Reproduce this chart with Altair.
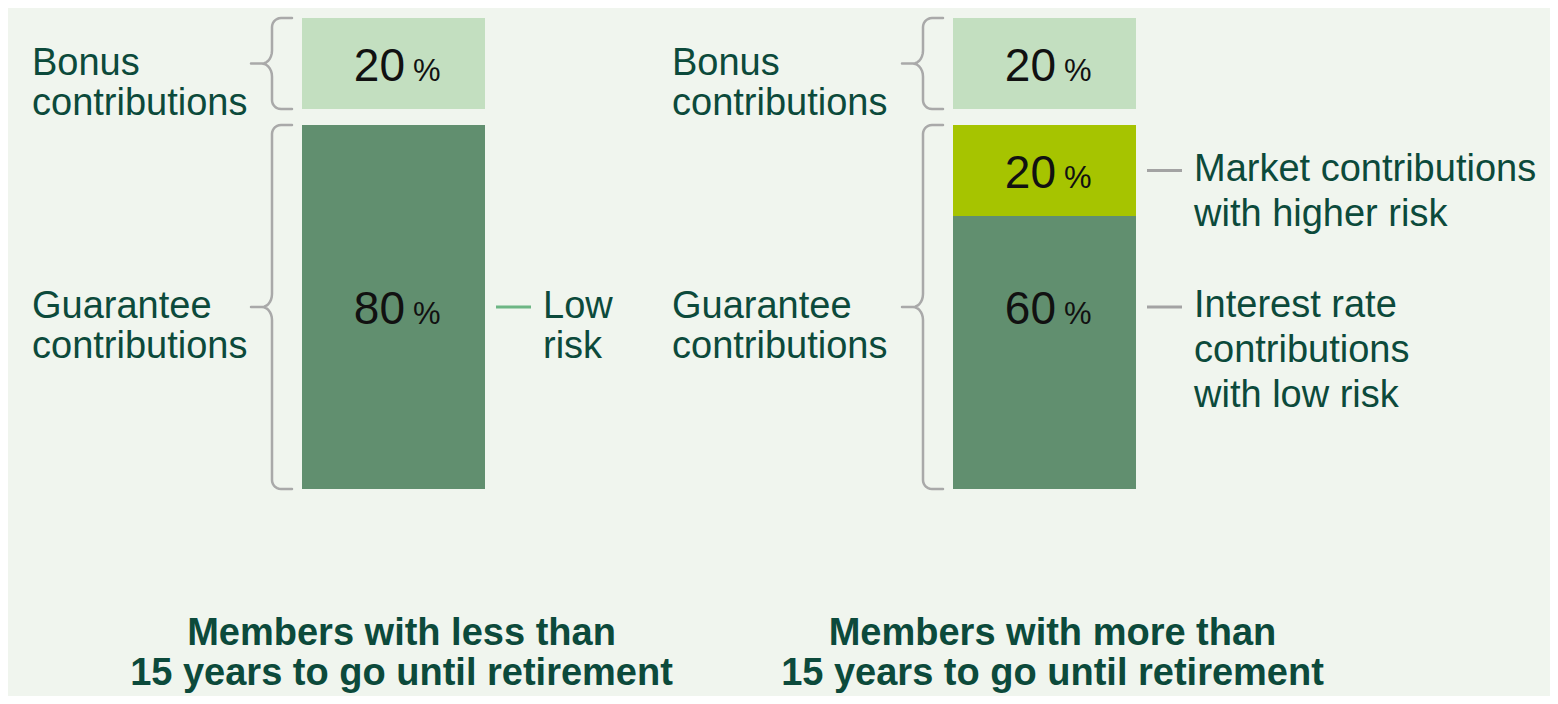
import altair as alt
import numpy as np
import pandas as pd

# ---------------- data ----------------
panel_ids = [0, 1]
panel_titles = [
    "Members with less than\n15 years to go until retirement",
    "Members with more than\n15 years to go until retirement",
]

seg_panel = [0, 0, 1, 1, 1]
seg_kind = ["low", "bonus", "low", "market", "bonus"]
seg_group = ["Guarantee", "Bonus", "Guarantee", "Guarantee", "Bonus"]
seg_value = [80, 20, 60, 20, 20]

group_names = ["Guarantee", "Bonus"]
group_labels = {"Guarantee": "Guarantee\ncontributions", "Bonus": "Bonus\ncontributions"}

ann_panel = [0, 1, 1]
ann_kind = ["low", "market", "low"]
ann_text = ["Low\nrisk", "Market contributions\nwith higher risk",
            "Interest rate\ncontributions\nwith low risk"]

# ---------------- layout / style ----------------
W, H = 1542, 688
PX_X = 651.0          # px per panel unit
PX_Y = 4.55           # px per percent point
ORIGIN_X = 385.5      # px of panel 0 centre
ZERO_Y = 481.0        # px of value 0
GAP = 3.5             # gap (percent units) between guarantee and bonus blocks
BAR_HALF = 91.5
XMIN, XMAX = -ORIGIN_X / PX_X, (W - ORIGIN_X) / PX_X
YMIN, YMAX = -(H - ZERO_Y) / PX_Y, ZERO_Y / PX_Y
LABEL_DX = {0: -361.5, 1: -372.5}
TITLE_Y = (ZERO_Y - 637) / PX_Y

BG = "#f0f5ee"
TXT = "#0c4a3b"
FONT = "Liberation Sans"
COLORS = {"low": "#618f6f", "market": "#a6c400", "bonus": "#c3dfc0"}

# ---------------- derived tables ----------------
seg_rows, grp_rows = [], []
for p in panel_ids:
    base = 0.0
    for g in group_names:
        if g == "Bonus":
            base += GAP
        gstart = base
        for i in range(len(seg_value)):
            if seg_panel[i] == p and seg_group[i] == g:
                seg_rows.append(dict(panel=p, kind=seg_kind[i], group=g,
                                     y0=base, y1=base + seg_value[i],
                                     value=seg_value[i]))
                base += seg_value[i]
        grp_rows.append(dict(panel=p, group=g, start=gstart, end=base,
                             mid=(gstart + base) / 2, label=group_labels[g]))
segs = pd.DataFrame(seg_rows)
grps = pd.DataFrame(grp_rows)
gmid = {(r.panel, r.group): r.mid for r in grps.itertuples()}
segs["anchor"] = [gmid[(r.panel, r.group)] if r.kind == "low" else (r.y0 + r.y1) / 2
                  for r in segs.itertuples()]
segs["x0"] = segs["panel"] - BAR_HALF / PX_X
segs["x1"] = segs["panel"] + BAR_HALF / PX_X
segs["num"] = segs["value"].astype(str)
segs["pct"] = "%"
segs["xn"] = segs["panel"] + 11.5 / PX_X
segs["xp"] = segs["panel"] + 19.5 / PX_X

grps["xl"] = [r.panel + LABEL_DX[r.panel] / PX_X for r in grps.itertuples()]

anns = pd.DataFrame(dict(panel=ann_panel, kind=ann_kind, text=ann_text))
anns["anchor"] = [
    segs[(segs.panel == r.panel) & (segs.kind == r.kind)]["anchor"].iloc[0]
    for r in anns.itertuples()
]
anns["tx0"] = anns["panel"] + (BAR_HALF + 11) / PX_X
anns["tx1"] = anns["panel"] + (BAR_HALF + 46) / PX_X
anns["xt"] = anns["panel"] + (BAR_HALF + 58) / PX_X
anns["tick"] = ["green" if p == 0 else "gray" for p in anns["panel"]]

titles = pd.DataFrame(dict(panel=panel_ids, text=panel_titles))
titles["x"] = titles["panel"] + 8 / PX_X
titles["y"] = TITLE_Y


def brace_pts(top_u, bot_u, mid_u):
    top, bot, mid = -top_u * PX_Y, -bot_u * PX_Y, -mid_u * PX_Y
    r, vert, end, tip, tw, th = 9, -30, -10, -51, 10, 13
    pts = [(end, top)]
    for t in np.radians(np.linspace(-90, -180, 8)):
        pts.append((vert + r + r * np.cos(t), top + r + r * np.sin(t)))
    for t in np.radians(np.linspace(0, 90, 8)):
        pts.append((vert - tw + tw * np.cos(t), mid - th + th * np.sin(t)))
    pts.append((tip, mid))
    for t in np.radians(np.linspace(-90, 0, 8)):
        pts.append((vert - tw + tw * np.cos(t), mid + th + th * np.sin(t)))
    for t in np.radians(np.linspace(180, 90, 8)):
        pts.append((vert + r + r * np.cos(t), bot - r + r * np.sin(t)))
    pts.append((end, bot))
    return pts


b_rows = []
for k, r in enumerate(grps.itertuples()):
    for i, (dx, py) in enumerate(brace_pts(r.end, r.start, r.mid)):
        b_rows.append(dict(bid=k, i=i,
                           x=r.panel + (-BAR_HALF + dx) / PX_X,
                           y=-py / PX_Y))
braces = pd.DataFrame(b_rows)

# ---------------- chart ----------------
xs = alt.Scale(domain=[XMIN, XMAX], nice=False, zero=False)
ys = alt.Scale(domain=[YMIN, YMAX], nice=False, zero=False)


def X(f):
    return alt.X(f, type="quantitative", scale=xs, axis=None)


def Y(f):
    return alt.Y(f, type="quantitative", scale=ys, axis=None)


bars = alt.Chart(segs).mark_bar().encode(
    x=X("x0"), x2="x1", y=Y("y0"), y2="y1",
    color=alt.Color("kind:N", legend=None,
                    scale=alt.Scale(domain=list(COLORS), range=list(COLORS.values()))),
)

nums = alt.Chart(segs).mark_text(
    align="right", baseline="alphabetic", dy=17, fontSize=46, font=FONT, color="#111111"
).encode(x=X("xn"), y=Y("anchor"), text="num:N")

pcts = alt.Chart(segs).mark_text(
    align="left", baseline="alphabetic", dy=17, fontSize=31, font=FONT, color="#111111"
).encode(x=X("xp"), y=Y("anchor"), text="pct:N")

brace = alt.Chart(braces).mark_line(
    color="#a9a9a9", strokeWidth=2.5, strokeCap="round", strokeJoin="round"
).encode(x=X("x"), y=Y("y"), detail="bid:N", order="i:Q")

glabels = alt.Chart(grps).mark_text(
    align="left", baseline="alphabetic", dy=11, fontSize=38, font=FONT,
    color=TXT, lineBreak="\n", lineHeight=40
).encode(x=X("xl"), y=Y("mid"), text="label:N")

tick_g = alt.Chart(anns).transform_filter("datum.tick == 'green'").mark_rule(
    color="#6db684", strokeWidth=3
).encode(x=X("tx0"), x2="tx1", y=Y("anchor"))

tick_k = alt.Chart(anns).transform_filter("datum.tick == 'gray'").mark_rule(
    color="#a3a3a3", strokeWidth=3
).encode(x=X("tx0"), x2="tx1", y=Y("anchor"))

ann_l = alt.Chart(anns).transform_filter("datum.panel == 0").mark_text(
    align="left", baseline="alphabetic", dy=11, fontSize=38, font=FONT,
    color=TXT, lineBreak="\n", lineHeight=40
).encode(x=X("xt"), y=Y("anchor"), text="text:N")

ann_r = alt.Chart(anns).transform_filter("datum.panel == 1").mark_text(
    align="left", baseline="alphabetic", dy=10, fontSize=38, font=FONT,
    color=TXT, lineBreak="\n", lineHeight=45
).encode(x=X("xt"), y=Y("anchor"), text="text:N")

ttl = alt.Chart(titles).mark_text(
    align="center", baseline="alphabetic", fontSize=38, fontWeight="bold",
    font=FONT, color=TXT, lineBreak="\n", lineHeight=40
).encode(x=X("x"), y=Y("y"), text="text:N")

chart = alt.layer(
    bars, brace, nums, pcts, glabels, tick_g, tick_k, ann_l, ann_r, ttl
).properties(
    width=W, height=H, background=BG, padding=0,
    autosize=alt.AutoSizeParams(type="none"),
).configure_view(stroke=None)

chart.save("out.html", embed_options={"renderer": "svg", "actions": False})
